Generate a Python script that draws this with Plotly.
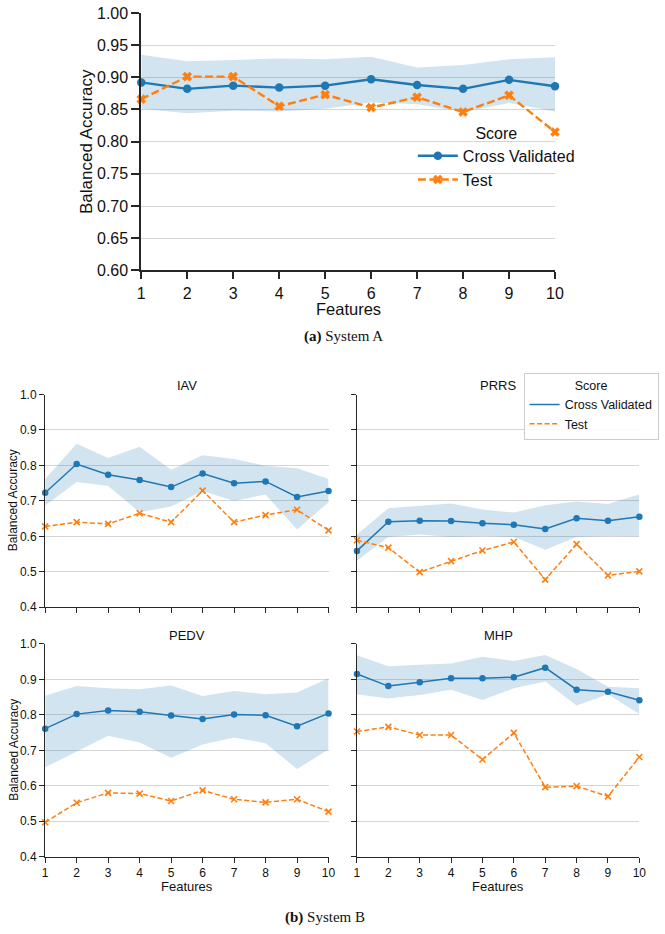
import plotly.graph_objects as go

W, H = 665, 934

features = [1, 2, 3, 4, 5, 6, 7, 8, 9, 10]

# ---- System A ----
a_cv = [0.892, 0.882, 0.887, 0.884, 0.887, 0.897, 0.888, 0.882, 0.896, 0.886]
a_test = [0.866, 0.901, 0.901, 0.855, 0.873, 0.853, 0.869, 0.846, 0.872, 0.815]
a_upper = [0.935, 0.925, 0.927, 0.929, 0.928, 0.932, 0.915, 0.919, 0.928, 0.931]
a_lower = [0.851, 0.844, 0.848, 0.847, 0.851, 0.861, 0.858, 0.846, 0.860, 0.847]

# ---- System B ----
iav_cv = [0.723, 0.804, 0.774, 0.759, 0.739, 0.777, 0.750, 0.755, 0.711, 0.728]
iav_test = [0.628, 0.640, 0.635, 0.665, 0.640, 0.729, 0.640, 0.660, 0.675, 0.617]
iav_upper = [0.762, 0.861, 0.821, 0.853, 0.788, 0.829, 0.818, 0.799, 0.792, 0.762]
iav_lower = [0.687, 0.753, 0.742, 0.668, 0.684, 0.728, 0.700, 0.718, 0.619, 0.696]

prrs_cv = [0.559, 0.641, 0.644, 0.643, 0.637, 0.633, 0.621, 0.651, 0.644, 0.655]
prrs_test = [0.589, 0.568, 0.499, 0.530, 0.560, 0.584, 0.478, 0.578, 0.490, 0.501]
prrs_upper = [0.605, 0.679, 0.686, 0.693, 0.676, 0.667, 0.688, 0.698, 0.691, 0.719]
prrs_lower = [0.531, 0.598, 0.605, 0.598, 0.601, 0.598, 0.562, 0.598, 0.601, 0.600]

pedv_cv = [0.761, 0.802, 0.812, 0.809, 0.798, 0.788, 0.801, 0.799, 0.768, 0.804]
pedv_test = [0.497, 0.552, 0.580, 0.578, 0.557, 0.587, 0.562, 0.553, 0.562, 0.527]
pedv_upper = [0.854, 0.881, 0.875, 0.872, 0.883, 0.853, 0.867, 0.858, 0.863, 0.903]
pedv_lower = [0.652, 0.697, 0.741, 0.722, 0.679, 0.716, 0.736, 0.720, 0.647, 0.702]

mhp_cv = [0.915, 0.881, 0.892, 0.903, 0.903, 0.906, 0.933, 0.871, 0.865, 0.841]
mhp_test = [0.753, 0.766, 0.743, 0.743, 0.674, 0.749, 0.596, 0.599, 0.570, 0.681]
mhp_upper = [0.968, 0.937, 0.941, 0.945, 0.964, 0.952, 0.969, 0.929, 0.879, 0.875]
mhp_lower = [0.858, 0.846, 0.856, 0.871, 0.842, 0.875, 0.894, 0.826, 0.858, 0.802]

a_yticks = [0.60, 0.65, 0.70, 0.75, 0.80, 0.85, 0.90, 0.95, 1.00]
b_yticks = [0.4, 0.5, 0.6, 0.7, 0.8, 0.9, 1.0]

BLUE = "#1f77b4"
ORANGE = "#ff7f0e"
BAND = "rgba(31,119,180,0.2)"
SPINE = "#262626"
GRID = "#d5d5d5"
FONT = "Liberation Sans, Arial, sans-serif"
SERIF = "Liberation Serif, Times New Roman, serif"

fig = go.Figure()


def px_x(p):
    return p / W


def px_y(p):
    return 1 - p / H


def add_panel(idx, cv, test, up, lo, big, legend_name, show_legend):
    xa = "x" if idx == 1 else f"x{idx}"
    ya = "y" if idx == 1 else f"y{idx}"
    fig.add_trace(go.Scatter(x=features, y=up, mode="lines", line=dict(width=0),
                             showlegend=False, hoverinfo="skip", xaxis=xa, yaxis=ya))
    fig.add_trace(go.Scatter(x=features, y=lo, mode="lines", line=dict(width=0),
                             fill="tonexty", fillcolor=BAND, showlegend=False,
                             hoverinfo="skip", xaxis=xa, yaxis=ya))
    lw = 2.4 if big else 1.5
    fig.add_trace(go.Scatter(x=features, y=cv, mode="lines+markers", name="Cross Validated",
                             line=dict(color=BLUE, width=lw),
                             marker=dict(symbol="circle", size=8.5 if big else 6.5, color=BLUE),
                             cliponaxis=False, showlegend=show_legend, legend=legend_name,
                             xaxis=xa, yaxis=ya))
    fig.add_trace(go.Scatter(x=features, y=test, mode="lines+markers", name="Test",
                             line=dict(color=ORANGE, width=lw,
                                       dash="8px,3.5px" if big else "5px,2.5px"),
                             marker=dict(symbol="x" if big else "x-thin",
                                         size=8 if big else 6,
                                         color=ORANGE,
                                         line=dict(color=ORANGE, width=0.6 if big else 1.6)),
                             cliponaxis=False, showlegend=show_legend, legend=legend_name,
                             xaxis=xa, yaxis=ya))


# Top panel (System A)
add_panel(1, a_cv, a_test, a_upper, a_lower, True, "legend", True)
# Bottom panels (System B)
add_panel(2, iav_cv, iav_test, iav_upper, iav_lower, False, "legend2", False)
add_panel(3, prrs_cv, prrs_test, prrs_upper, prrs_lower, False, "legend2", False)
add_panel(4, pedv_cv, pedv_test, pedv_upper, pedv_lower, False, "legend2", False)
add_panel(5, mhp_cv, mhp_test, mhp_upper, mhp_lower, False, "legend2", False)

# legend-only entries for System B legend (lines without markers)
fig.add_trace(go.Scatter(x=[None], y=[None], mode="lines", name="Cross Validated",
                         line=dict(color=BLUE, width=1.5), legend="legend2",
                         xaxis="x3", yaxis="y3"))
fig.add_trace(go.Scatter(x=[None], y=[None], mode="lines", name="Test",
                         line=dict(color=ORANGE, width=1.5, dash="5px,2.5px"),
                         legend="legend2", xaxis="x3", yaxis="y3"))

# domains (pixels of the reference picture)
top_x = [px_x(140), px_x(562)]
top_y = [px_y(268), px_y(6)]
lx = [px_x(42), px_x(331)]
rx = [px_x(360), px_x(648)]
ry_top = [px_y(610.7), px_y(394.3)]
ry_bot = [px_y(864.5), px_y(648)]


def xaxis(domain, anchor, big, labels):
    return dict(domain=domain, anchor=anchor, range=[1, 10], tickvals=features,
                showticklabels=labels, showline=True, linecolor=SPINE,
                linewidth=1.8 if big else 1.4, ticks="outside",
                ticklen=7 if big else 5, tickwidth=1.8 if big else 1.3, tickcolor=SPINE,
                showgrid=False, zeroline=False,
                tickfont=dict(family=FONT, size=16 if big else 12, color="#111"))


def yaxis(domain, anchor, big, labels, ticks, fmt):
    return dict(domain=domain, anchor=anchor, range=[ticks[0], ticks[-1]], tickvals=ticks,
                tickformat=fmt, showticklabels=labels, showline=True, linecolor=SPINE,
                linewidth=1.8 if big else 1.4, ticks="outside",
                ticklen=8 if big else 5, tickwidth=1.8 if big else 1.3, tickcolor=SPINE,
                showgrid=True, gridcolor=GRID, gridwidth=1.4 if big else 1.2,
                zeroline=False,
                tickfont=dict(family=FONT, size=16 if big else 12, color="#111"))


fig.update_layout(
    width=W, height=H, margin=dict(l=0, r=0, t=0, b=0),
    paper_bgcolor="white", plot_bgcolor="white",
    font=dict(family=FONT, color="#111"),
    xaxis=xaxis(top_x, "y", True, True),
    yaxis=yaxis(top_y, "x", True, True, a_yticks, ".2f"),
    xaxis2=xaxis(lx, "y2", False, False),
    yaxis2=yaxis(ry_top, "x2", False, True, b_yticks, ".1f"),
    xaxis3=xaxis(rx, "y3", False, False),
    yaxis3=yaxis(ry_top, "x3", False, False, b_yticks, ".1f"),
    xaxis4=xaxis(lx, "y4", False, True),
    yaxis4=yaxis(ry_bot, "x4", False, True, b_yticks, ".1f"),
    xaxis5=xaxis(rx, "y5", False, True),
    yaxis5=yaxis(ry_bot, "x5", False, False, b_yticks, ".1f"),
    legend=dict(x=px_x(417), y=px_y(113), xanchor="left", yanchor="top",
                bgcolor="rgba(0,0,0,0)", borderwidth=0, traceorder="normal",
                title=dict(text="Score", side="top center",
                           font=dict(family=FONT, size=16, color="#111")),
                font=dict(family=FONT, size=16, color="#111"),
                itemwidth=40, tracegroupgap=0),
    legend2=dict(x=px_x(530), y=px_y(372), xanchor="left", yanchor="top",
                 bgcolor="rgba(255,255,255,0.85)", bordercolor="#cccccc", borderwidth=1,
                 traceorder="normal",
                 title=dict(text="Score", side="top center",
                            font=dict(family=FONT, size=12.5, color="#111")),
                 font=dict(family=FONT, size=12.5, color="#111"),
                 itemwidth=30, tracegroupgap=0),
)

ann = []


def text(x, y, s, size, family=FONT, angle=0):
    ann.append(dict(x=px_x(x), y=px_y(y), xref="paper", yref="paper", text=s,
                    showarrow=False, xanchor="center", yanchor="middle", textangle=angle,
                    font=dict(family=family, size=size, color="#111")))


# System A titles
text(351, 307, "Features", 16.5)
text(84, 137, "Balanced Accuracy", 17, angle=-90)
text(346, 335, "<b>(a)</b> System A", 15, family=SERIF)
# System B titles
text(186.5, 385, "IAV", 13)
text(504, 385, "PRRS", 13)
text(186.5, 639, "PEDV", 13)
text(504, 639, "MHP", 13)
text(10, 502, "Balanced Accuracy", 12, angle=-90)
text(10, 756, "Balanced Accuracy", 12, angle=-90)
text(186.5, 895, "Features", 13)
text(504, 895, "Features", 13)
text(327, 926, "<b>(b)</b> System B", 15, family=SERIF)

fig.update_layout(annotations=ann)

# remove the default 8px page margin so the figure fills the 665x934 window exactly
fig.write_html("out.html", config={"displayModeBar": False},
               post_script="document.body.style.margin='0';document.body.style.overflow='hidden';")
